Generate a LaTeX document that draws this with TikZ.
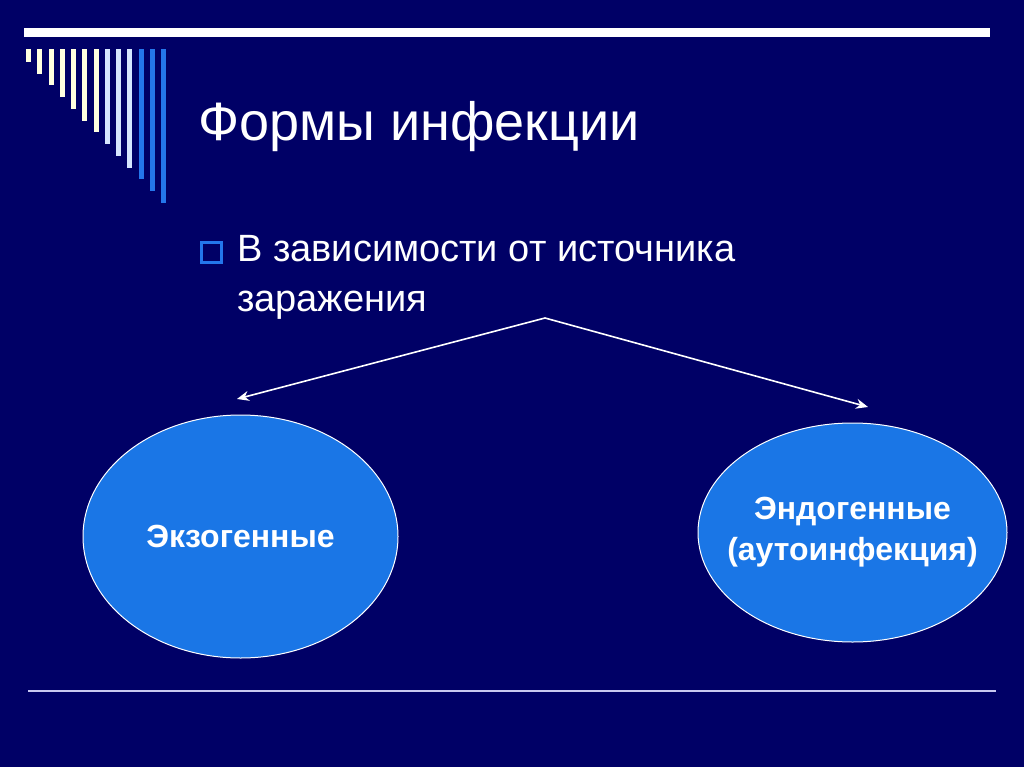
\documentclass[tikz,border=0pt]{standalone}
\usepackage{fontspec}
\setmainfont{Liberation Sans}
\usetikzlibrary{shapes.geometric,arrows.meta}
\definecolor{navy}{RGB}{0,0,102}
\definecolor{skyfill}{RGB}{26,118,230}
\definecolor{cream}{RGB}{255,255,224}
\definecolor{paleblue}{RGB}{214,230,255}
\definecolor{barblue}{RGB}{36,118,236}
\definecolor{lavender}{RGB}{200,200,240}
\tikzset{
	oval/.style={ellipse, draw=white, line width=1pt, fill=skyfill, text=white, inner sep=-60pt, align=center, font=\bfseries\fontsize{32}{41}\selectfont},
	branch/.style={white, line width=1.6pt, -{Stealth[length=12pt, width=10pt]}}
}
\begin{document}
\begin{tikzpicture}[x=1pt, y=-1pt]
		\fill[navy] (0,0) rectangle (1024,767);
		\useasboundingbox (0,0) rectangle (1024,767);
		\fill[white] (24,28) rectangle (990,37);
		\foreach \i in {0,...,12} {
			\ifnum\i<7 \def\stripecol{cream}\else\ifnum\i<10 \def\stripecol{paleblue}\else\def\stripecol{barblue}\fi\fi
			\fill[\stripecol] (26+11.25*\i,49) rectangle (31+11.25*\i,62+11.75*\i);
		}
		\draw[lavender, line width=1.5pt] (28,691) -- (996,691);
		\node[anchor=base west, white, font=\fontsize{54}{60}\selectfont, inner sep=0pt] (title) at (198,141) {Формы инфекции};
		\draw[barblue, line width=3pt] (201.5,242.5) rectangle (221.5,262.5);
		\node[anchor=base west, white, align=left, font=\fontsize{38}{50}\selectfont, inner sep=0pt] (source) at (237,311) {В зависимости от источника\\заражения};
		\coordinate (top) at (545,318);
		\coordinate (leftend) at (237,399);
		\coordinate (rightend) at (868,407);
		\draw[branch] (top) -- (leftend);
		\draw[branch] (top) -- (rightend);
		\node[oval, minimum width=315pt, minimum height=243pt] (exo) at (240.5,536.5) {Экзогенные};
		\node[oval, minimum width=309pt, minimum height=219pt] (endo) at (852.5,532.5) {Эндогенные\\(аутоинфекция)};
	\end{tikzpicture}
\end{document}
